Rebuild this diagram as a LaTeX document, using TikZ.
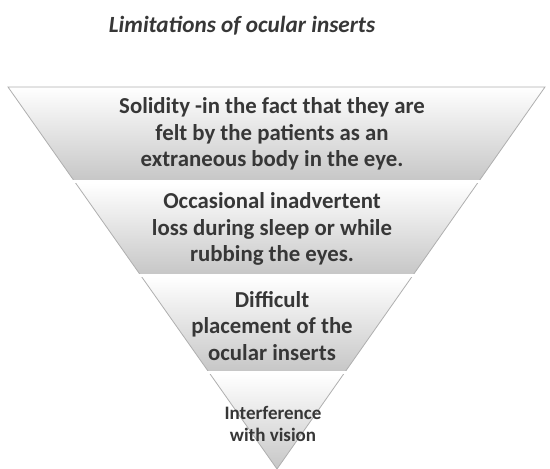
\documentclass[tikz,border=0pt]{standalone}
\usepackage{fontspec}
\setmainfont{Carlito}
\definecolor{txtgray}{RGB}{55,55,55}
\definecolor{edgegray}{RGB}{175,175,175}
\begin{document}
\begin{tikzpicture}[
  x=1pt, y=-1pt,
  band/.style={top color=white, middle color=black!4, bottom color=black!22},
  btext/.style={align=center, text=txtgray, font=\bfseries\fontsize{22.8}{26.5}\selectfont, inner sep=0pt},
  stext/.style={align=center, text=txtgray, font=\bfseries\fontsize{19}{22}\selectfont, inner sep=0pt}
]
  \useasboundingbox (0,0) rectangle (550,469);
  % Corners of the funnel
  \coordinate (tl) at (8,87);
  \coordinate (tr) at (545,87);
  \coordinate (ap) at (277,469);

  % Bands
  \begin{scope}
    \clip (tl) -- (tr) -- (ap) -- cycle;
    \shade[band] (0,87) rectangle (550,180);
    \shade[band] (0,183) rectangle (550,274);
    \shade[band] (0,277) rectangle (550,371);
    \shade[band] (0,374) rectangle (550,469);
  \end{scope}
  \draw[edgegray, line width=0.8pt] (tl) -- (tr) -- (ap) -- cycle;
  \draw[white, line width=3pt] (60,181.5) -- (490,181.5);
  \draw[white, line width=3pt] (120,275.5) -- (430,275.5);
  \draw[white, line width=3pt] (190,372.5) -- (370,372.5);

  % Title
  \node[text=txtgray, font=\bfseries\itshape\fontsize{23.2}{26}\selectfont] (title) at (242,26) {Limitations of ocular inserts};

  % Labels
  \node[btext] (b1) at (272,134) {Solidity -in the fact that they are\\felt by the patients as an\\extraneous body in the eye.};
  \node[btext] (b2) at (272,229) {Occasional inadvertent\\loss during sleep or while\\rubbing the eyes.};
  \node[btext] (b3) at (272,326) {Difficult\\placement of the\\ocular inserts};
  \node[stext] (b4) at (273,424) {Interference\\with vision};
\end{tikzpicture}
\end{document}
